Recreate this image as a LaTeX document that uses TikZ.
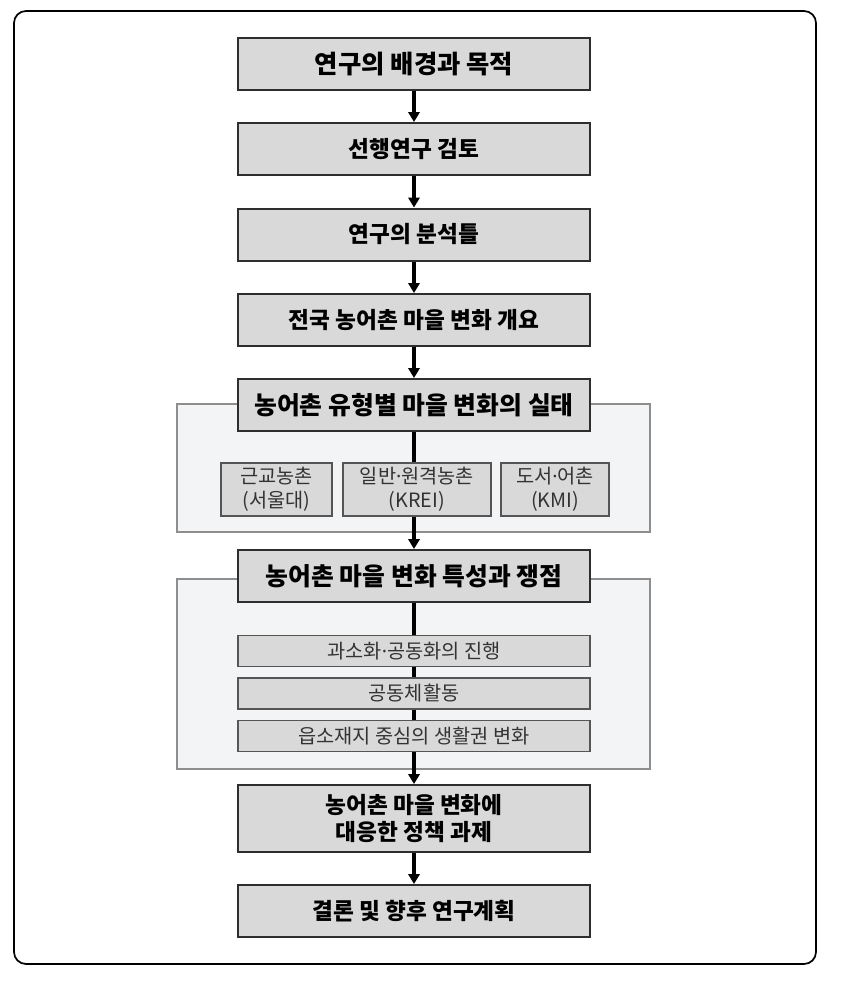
\documentclass[tikz,border=0pt]{standalone}
\usepackage{fontspec}
\setmainfont{Noto Sans CJK KR}
\newfontfamily\latinfont{Noto Sans}
\newcommand{\mdot}{{\latinfont ·}}
\usetikzlibrary{arrows.meta}
\definecolor{boxfill}{HTML}{D9D9D9}
\definecolor{boxline}{HTML}{2E2E2E}
\definecolor{panelfill}{HTML}{F3F4F6}
\definecolor{panelline}{HTML}{8E8E8E}
\definecolor{subline}{HTML}{555555}
\definecolor{subtext}{HTML}{333333}
\begin{document}
\begin{tikzpicture}[x=0.75pt,y=-0.75pt,
 mainbox/.style={draw=boxline, line width=1.5pt, fill=boxfill, minimum width=264pt, minimum height=39pt, inner sep=0pt, align=center, font=\fontsize{17}{20}\selectfont\bfseries},
 bigtext/.style={font=\fontsize{18.6}{22}\selectfont\bfseries},
 toptext/.style={font=\fontsize{19}{22}\selectfont\bfseries},
 subbox/.style={draw=subline, line width=1.1pt, fill=boxfill, inner sep=0pt, align=center, text=subtext, font=\fontsize{14.8}{18}\selectfont},
 panel/.style={draw=panelline, line width=1.1pt, fill=panelfill},
 flow/.style={line width=2.3pt, -{Triangle[width=8.5pt,length=7.5pt]}},
 link/.style={line width=2.3pt},
 frame/.style={draw=black, line width=1.3pt, rounded corners=9pt}]
\useasboundingbox (0,0) rectangle (843,992);
\draw[frame] (14,11) rectangle (816,964);
\draw[panel] (177,404) rectangle (650,532);
\draw[panel] (177,579) rectangle (650,769);
\node[mainbox,toptext] (b1) at (414,64) {연구의 배경과 목적};
\node[mainbox] (b2) at (414,149) {선행연구 검토};
\node[mainbox] (b3) at (414,234.5) {연구의 분석틀};
\node[mainbox] (b4) at (414,320) {전국 농어촌 마을 변화 개요};
\node[mainbox,bigtext] (b5) at (414,405) {농어촌 유형별 마을 변화의 실태};
\node[subbox, minimum width=83.25pt, minimum height=39.75pt] (s1) at (276.5,489.5) {근교농촌\\(서울대)};
\node[subbox, minimum width=111pt, minimum height=39.75pt] (s2) at (417,489.5) {일반\mdot 원격농촌\\(KREI)};
\node[subbox, minimum width=81pt, minimum height=39.75pt] (s3) at (555,489.5) {도서\mdot 어촌\\(KMI)};
\node[mainbox,bigtext] (b6) at (414,576) {농어촌 마을 변화 특성과 쟁점};
\node[subbox, minimum width=264pt, minimum height=23.25pt] (sa) at (414,651) {과소화\mdot 공동화의 진행};
\node[subbox, minimum width=264pt, minimum height=23.25pt] (sb) at (414,693.5) {공동체활동};
\node[subbox, minimum width=264pt, minimum height=23.25pt] (sc) at (414,736) {읍소재지 중심의 생활권 변화};
\node[mainbox, minimum height=50.25pt] (b7) at (414,818.5) {농어촌 마을 변화에\\대응한 정책 과제};
\node[mainbox] (b8) at (414,911) {결론 및 향후 연구계획};
\draw[flow] (b1) -- (b2);
\draw[flow] (b2) -- (b3);
\draw[flow] (b3) -- (b4);
\draw[flow] (b4) -- (b5);
\draw[link] (b5.south) -- (b5.south |- s2.north);
\draw[flow] (b5.south |- s2.south) -- (b6.north);
\draw[link] (b6) -- (sa);
\draw[link] (sa) -- (sb);
\draw[link] (sb) -- (sc);
\draw[flow] (sc) -- (b7);
\draw[flow] (b7) -- (b8);
\end{tikzpicture}
\end{document}
